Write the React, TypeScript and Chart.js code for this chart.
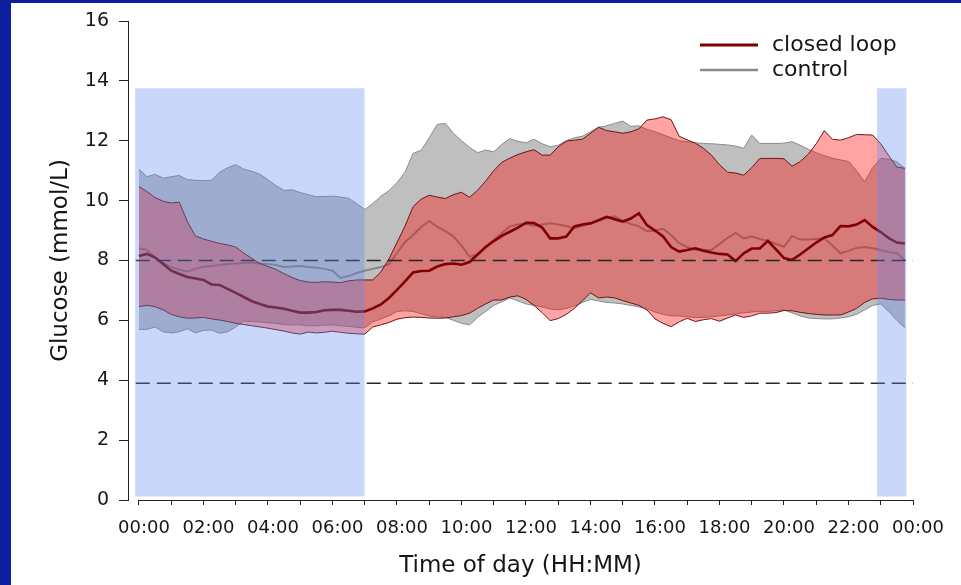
import React, { useEffect, useRef } from "react";
import { Chart, registerables } from "chart.js";

Chart.register(...registerables);

// Time grid: one value every 15 minutes, 00:00 .. 23:45
const STEP_H = 0.25;

// Closed loop: median, upper and lower quartile (mmol/L)
const closedLoopMedian = [
  8.15, 8.22, 8.10, 7.88, 7.66, 7.55, 7.45, 7.40,
  7.35, 7.20, 7.18, 7.05, 6.92, 6.78, 6.64, 6.55,
  6.46, 6.43, 6.39, 6.32, 6.26, 6.26, 6.28, 6.34,
  6.35, 6.35, 6.32, 6.29, 6.30, 6.40, 6.53, 6.75,
  7.02, 7.30, 7.60, 7.65, 7.66, 7.80, 7.88, 7.90,
  7.86, 7.95, 8.20, 8.45, 8.65, 8.82, 8.96, 9.10,
  9.26, 9.25, 9.10, 8.74, 8.74, 8.80, 9.14, 9.20,
  9.24, 9.35, 9.46, 9.38, 9.30, 9.40, 9.58, 9.18,
  9.00, 8.80, 8.45, 8.30, 8.35, 8.41, 8.33, 8.27,
  8.22, 8.20, 7.98, 8.24, 8.40, 8.40, 8.66, 8.37,
  8.08, 8.02, 8.20, 8.40, 8.60, 8.77, 8.85, 9.15,
  9.14, 9.20, 9.35, 9.12, 8.95, 8.75, 8.60, 8.57,
];
const closedLoopUpper = [
  10.47, 10.30, 10.10, 9.98, 9.92, 9.95, 9.30, 8.82,
  8.72, 8.64, 8.57, 8.52, 8.45, 8.25, 8.07, 7.90,
  7.80, 7.70, 7.56, 7.43, 7.33, 7.28, 7.27, 7.29,
  7.28, 7.26, 7.32, 7.35, 7.35, 7.35, 7.62, 8.05,
  8.60, 9.15, 9.80, 10.05, 10.18, 10.12, 10.07, 10.20,
  10.28, 10.11, 10.35, 10.65, 11.00, 11.28, 11.42, 11.54,
  11.63, 11.70, 11.52, 11.52, 11.80, 11.99, 12.02, 12.05,
  12.25, 12.45, 12.34, 12.30, 12.25, 12.30, 12.40, 12.69,
  12.73, 12.80, 12.70, 12.15, 12.03, 11.92, 11.75, 11.52,
  11.20, 10.95, 10.92, 10.85, 11.10, 11.41, 11.41, 11.41,
  11.40, 11.15, 11.30, 11.55, 11.90, 12.34, 12.05, 12.02,
  12.10, 12.21, 12.20, 12.19, 11.90, 11.50, 11.12, 11.08,
];
const closedLoopLower = [
  6.46, 6.50, 6.46, 6.35, 6.20, 6.12, 6.07, 6.08,
  6.10, 6.05, 6.01, 5.96, 5.90, 5.86, 5.82, 5.78,
  5.74, 5.69, 5.64, 5.58, 5.54, 5.61, 5.58, 5.60,
  5.64, 5.60, 5.57, 5.55, 5.54, 5.78, 5.85, 5.93,
  6.04, 6.09, 6.11, 6.10, 6.08, 6.07, 6.08, 6.12,
  6.16, 6.24, 6.40, 6.55, 6.68, 6.68, 6.78, 6.82,
  6.70, 6.50, 6.26, 5.99, 6.06, 6.20, 6.40, 6.65,
  6.92, 6.75, 6.78, 6.75, 6.66, 6.58, 6.50, 6.35,
  6.05, 5.90, 5.79, 5.95, 6.07, 5.96, 6.02, 6.06,
  5.97, 6.08, 6.18, 6.10, 6.15, 6.24, 6.24, 6.26,
  6.33, 6.32, 6.27, 6.23, 6.20, 6.18, 6.18, 6.18,
  6.28, 6.40, 6.60, 6.72, 6.74, 6.70, 6.68, 6.68,
];

// Control: median, upper and lower quartile (mmol/L)
const controlMedian = [
  8.41, 8.35, 8.10, 7.92, 7.78, 7.70, 7.63, 7.72,
  7.79, 7.82, 7.85, 7.88, 7.90, 7.92, 7.93, 7.90,
  7.88, 7.85, 7.78, 7.80, 7.82, 7.78, 7.76, 7.72,
  7.66, 7.42, 7.48, 7.58, 7.66, 7.72, 7.78, 7.88,
  8.25, 8.62, 8.85, 9.12, 9.32, 9.12, 8.98, 8.80,
  8.50, 8.13, 8.20, 8.45, 8.68, 8.92, 9.14, 9.20,
  9.23, 9.16, 9.20, 9.24, 9.20, 9.15, 9.07, 9.16,
  9.24, 9.32, 9.42, 9.48, 9.32, 9.22, 9.14, 8.98,
  9.00, 9.06, 8.85, 8.58, 8.45, 8.36, 8.35, 8.35,
  8.55, 8.75, 8.92, 8.74, 8.80, 8.72, 8.65, 8.55,
  8.46, 8.82, 8.70, 8.70, 8.72, 8.74, 8.50, 8.24,
  8.32, 8.42, 8.45, 8.41, 8.35, 8.28, 8.24, 8.02,
];
const controlUpper = [
  11.05, 10.80, 10.88, 10.75, 10.80, 10.84, 10.70, 10.68,
  10.67, 10.68, 10.95, 11.10, 11.20, 11.05, 10.98, 10.88,
  10.70, 10.50, 10.34, 10.36, 10.27, 10.20, 10.13, 10.14,
  10.15, 10.12, 10.08, 9.90, 9.70, 9.90, 10.15, 10.33,
  10.60, 10.95, 11.58, 11.68, 12.10, 12.55, 12.58, 12.25,
  12.00, 11.78, 11.60, 11.69, 11.63, 11.88, 12.07, 11.98,
  11.93, 12.05, 11.90, 11.80, 11.85, 12.00, 12.10, 12.15,
  12.30, 12.45, 12.50, 12.58, 12.66, 12.48, 12.50, 12.38,
  12.30, 12.20, 12.10, 12.00, 11.97, 11.93, 11.91, 11.90,
  11.88, 11.86, 11.82, 11.75, 12.19, 11.91, 11.91, 11.91,
  11.92, 11.97, 11.85, 11.72, 11.60, 11.50, 11.42, 11.36,
  11.31, 11.00, 10.63, 11.10, 11.41, 11.38, 11.30, 11.08,
];
const controlLower = [
  5.70, 5.70, 5.78, 5.62, 5.58, 5.62, 5.72, 5.58,
  5.66, 5.68, 5.57, 5.62, 5.78, 5.98, 5.96, 5.95,
  5.92, 5.90, 5.86, 5.85, 5.85, 5.82, 5.82, 5.84,
  5.85, 5.82, 5.80, 5.77, 5.75, 5.95, 6.05, 6.15,
  6.30, 6.32, 6.30, 6.22, 6.15, 6.12, 6.10, 6.00,
  5.90, 5.85, 6.10, 6.30, 6.50, 6.62, 6.75, 6.65,
  6.55, 6.50, 6.45, 6.38, 6.35, 6.40, 6.48, 6.60,
  6.70, 6.65, 6.60, 6.58, 6.55, 6.50, 6.45, 6.38,
  6.28, 6.20, 6.15, 6.15, 6.12, 6.10, 6.10, 6.12,
  6.15, 6.18, 6.22, 6.25, 6.28, 6.30, 6.30, 6.32,
  6.35, 6.25, 6.15, 6.08, 6.06, 6.05, 6.05, 6.08,
  6.12, 6.20, 6.35, 6.50, 6.55, 6.30, 6.00, 5.75,
];

// Reference thresholds (mmol/L)
const thresholds = [8.0, 3.9];
const thresholdSpan = [-0.1, 24];

// Night periods (hours) shaded in blue
const nightPeriods = [
  [-0.12, 7.0],
  [22.88, 23.8],
];
const nightTop = 13.75;
const nightBottom = 0.12;

// Axis ticks
const xTickHours = [0, 1, 2, 3, 4, 5, 6, 7, 8, 9, 10, 11, 12, 13, 14, 15, 16, 17, 18, 19, 20, 21, 22, 23, 24];
const yTickStep = 2;

const legendItems = [
  { label: "closed loop", color: "#7f0000", width: 3 },
  { label: "control", color: "#8a8a8a", width: 2.5 },
];

const FONT = "'DejaVu Sans', 'Liberation Sans', sans-serif";
const TEXT = "#161616";
const FRAME = "#0a1e9e";

const toPts = (vals: number[]) => vals.map((y, i) => ({ x: i * STEP_H, y }));
const fmtHour = (h: number) => `${String(h % 24).padStart(2, "0")}:00`;

export default function App() {
  const ref = useRef<HTMLCanvasElement>(null);

  useEffect(() => {
    document.body.style.margin = "0";
    const canvas = ref.current;
    if (!canvas) return;

    const base = {
      pointRadius: 0,
      pointHoverRadius: 0,
      tension: 0,
      fill: false as any,
    };

    const datasets: any[] = [
      // 0
      { ...base, label: "closed loop", data: toPts(closedLoopMedian), borderColor: "#7f0000", borderWidth: 2.6, order: 2 },
      // 1
      { ...base, label: "cl upper", data: toPts(closedLoopUpper), borderColor: "#6e1414", borderWidth: 1, order: 3 },
      // 2
      {
        ...base, label: "cl lower", data: toPts(closedLoopLower), borderColor: "#6e1414", borderWidth: 1, order: 4,
        fill: 1, backgroundColor: "rgba(255,0,0,0.36)",
      },
      // 3
      { ...base, label: "control", data: toPts(controlMedian), borderColor: "#858585", borderWidth: 2, order: 5 },
      // 4
      { ...base, label: "ct upper", data: toPts(controlUpper), borderColor: "#8a8a8a", borderWidth: 1, order: 6 },
      // 5
      {
        ...base, label: "ct lower", data: toPts(controlLower), borderColor: "#8a8a8a", borderWidth: 1, order: 7,
        fill: 4, backgroundColor: "rgba(128,128,128,0.5)",
      },
    ];

    thresholds.forEach((t, i) => {
      datasets.push({
        ...base,
        label: `threshold ${i}`,
        data: thresholdSpan.map((x) => ({ x, y: t })),
        borderColor: "#262626",
        borderWidth: 1.4,
        borderDash: [14, 7],
        order: 1,
      });
    });

    nightPeriods.forEach((p, i) => {
      datasets.push({
        ...base,
        label: `night ${i}`,
        data: p.map((x) => ({ x, y: nightTop })),
        borderWidth: 0,
        borderColor: "rgba(0,0,0,0)",
        backgroundColor: "rgba(90,138,240,0.33)",
        fill: { value: nightBottom },
        order: 0,
      });
    });

    const axisLinePlugin = {
      id: "xAxisLine",
      afterDraw(chart: any) {
        const { ctx, chartArea, scales } = chart;
        const xs = scales.x;
        ctx.save();
        ctx.strokeStyle = "#222";
        ctx.lineWidth = 1;
        ctx.beginPath();
        const y = Math.round(chartArea.bottom) + 0.5;
        ctx.moveTo(xs.getPixelForValue(-0.03), y);
        ctx.lineTo(xs.getPixelForValue(24) + 0.5, y);
        ctx.stroke();
        ctx.restore();
      },
    };

    const legendPlugin = {
      id: "customLegend",
      afterDraw(chart: any) {
        const { ctx } = chart;
        ctx.save();
        ctx.font = `22px ${FONT}`;
        ctx.textBaseline = "middle";
        ctx.textAlign = "left";
        legendItems.forEach((it, i) => {
          const y = 42 + i * 25;
          ctx.strokeStyle = it.color;
          ctx.lineWidth = it.width;
          ctx.beginPath();
          ctx.moveTo(689, y);
          ctx.lineTo(747, y);
          ctx.stroke();
          ctx.fillStyle = TEXT;
          ctx.fillText(it.label, 761, y);
        });
        ctx.restore();
      },
    };

    const chart = new Chart(canvas, {
      type: "line",
      data: { datasets },
      options: {
        animation: false,
        responsive: false,
        devicePixelRatio: 1,
        events: [],
        layout: { padding: { left: 0, top: 18, right: 48, bottom: 0 } },
        plugins: {
          legend: { display: false },
          tooltip: { enabled: false },
          filler: { propagate: false },
        },
        scales: {
          x: {
            type: "linear",
            min: -0.34,
            max: 24,
            afterBuildTicks: (s: any) => {
              s.ticks = xTickHours.map((v) => ({ value: v }));
            },
            afterFit: (s: any) => {
              s.height = 85;
              s.paddingLeft = 0;
              s.paddingRight = 0;
            },
            ticks: {
              autoSkip: false,
              maxRotation: 0,
              minRotation: 0,
              labelOffset: 5,
              padding: 13,
              color: TEXT,
              font: { family: FONT, size: 18 },
              callback: (v: any) => (Number(v) % 2 === 0 ? fmtHour(Number(v)) : ""),
            },
            grid: { drawOnChartArea: false, drawTicks: true, tickLength: 5, color: "#222", lineWidth: 1 },
            border: { display: false },
            title: {
              display: true,
              text: "Time of day (HH:MM)",
              color: TEXT,
              font: { family: FONT, size: 23 },
              padding: { top: 0, bottom: 5 },
            },
          },
          y: {
            type: "linear",
            min: 0,
            max: 16,
            afterFit: (s: any) => {
              s.width = 117;
              s.paddingTop = 0;
              s.paddingBottom = 0;
            },
            ticks: {
              stepSize: yTickStep,
              padding: 10,
              color: TEXT,
              font: { family: FONT, size: 19 },
            },
            grid: { drawOnChartArea: false, drawTicks: true, tickLength: 9, color: "#222", lineWidth: 1 },
            border: { display: true, color: "#222", width: 1 },
            title: {
              display: true,
              text: "Glucose (mmol/L)",
              color: TEXT,
              font: { family: FONT, size: 23 },
              padding: { top: 36, bottom: 0 },
            },
          },
        },
      },
      plugins: [axisLinePlugin, legendPlugin],
    } as any);

    return () => chart.destroy();
  }, []);

  return (
    <div
      style={{
        position: "absolute",
        left: 0,
        top: 0,
        width: 961,
        height: 585,
        background: FRAME,
        overflow: "hidden",
      }}
    >
      <canvas
        ref={ref}
        width={950}
        height={582}
        style={{ position: "absolute", left: 11, top: 3, width: 950, height: 582, background: "#fff" }}
      />
    </div>
  );
}
